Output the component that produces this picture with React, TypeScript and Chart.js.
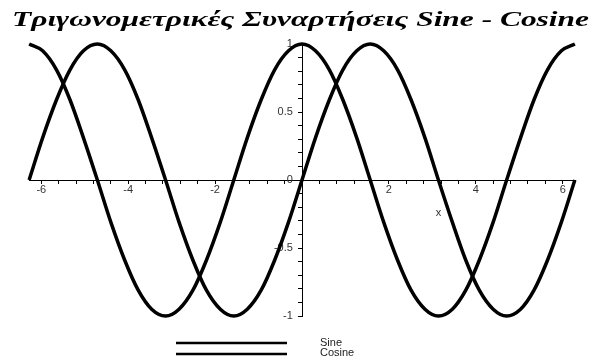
import React, { useEffect, useRef } from "react";
import { Chart, registerables } from "chart.js";

Chart.register(...registerables);

const TITLE = "Τριγωνομετρικές Συναρτήσεις Sine - Cosine";
const AXIS_LABEL = "x";
const SERIES_NAMES = ["Sine", "Cosine"];

const xValues = [
  -6.28, -5.97, -5.65, -5.34, -5.03, -4.71, -4.4, -4.08, -3.77, -3.46, -3.14,
  -2.83, -2.51, -2.2, -1.88, -1.57, -1.26, -0.94, -0.63, -0.31, 0,
  0.31, 0.63, 0.94, 1.26, 1.57, 1.88, 2.2, 2.51, 2.83, 3.14,
  3.46, 3.77, 4.08, 4.4, 4.71, 5.03, 5.34, 5.65, 5.97, 6.28,
];

const sineValues = [
  0, 0.31, 0.59, 0.81, 0.95, 1, 0.95, 0.81, 0.59, 0.31, 0,
  -0.31, -0.59, -0.81, -0.95, -1, -0.95, -0.81, -0.59, -0.31, 0,
  0.31, 0.59, 0.81, 0.95, 1, 0.95, 0.81, 0.59, 0.31, 0,
  -0.31, -0.59, -0.81, -0.95, -1, -0.95, -0.81, -0.59, -0.31, 0,
];

const cosineValues = [
  1, 0.95, 0.81, 0.59, 0.31, 0, -0.31, -0.59, -0.81, -0.95, -1,
  -0.95, -0.81, -0.59, -0.31, 0, 0.31, 0.59, 0.81, 0.95, 1,
  0.95, 0.81, 0.59, 0.31, 0, -0.31, -0.59, -0.81, -0.95, -1,
  -0.95, -0.81, -0.59, -0.31, 0, 0.31, 0.59, 0.81, 0.95, 1,
];

const xMajorTicks = [-6, -4, -2, 2, 4, 6];
const yMajorTicks = [-1, -0.5, 0, 0.5, 1];

const X_MIN = -6.2832;
const X_MAX = 6.2832;

const near = (v: number, list: number[]) => list.some((t) => Math.abs(t - v) < 1e-6);

const decorPlugin = {
  id: "decor",
  afterDraw(chart: any) {
    const ctx = chart.ctx;
    ctx.save();
    // Title, stretched across the width
    ctx.fillStyle = "#000";
    ctx.font = 'bold italic 20px "Liberation Serif"';
    ctx.textBaseline = "alphabetic";
    ctx.textAlign = "left";
    const w = ctx.measureText(TITLE).width;
    const target = 577;
    ctx.save();
    ctx.translate(12, 26);
    ctx.scale(target / w, 1);
    ctx.fillText(TITLE, 0, 0);
    ctx.restore();

    // axis label
    const xs = chart.scales.x;
    const ys = chart.scales.y;
    ctx.font = '11px "Liberation Sans"';
    ctx.fillStyle = "#333";
    ctx.textAlign = "center";
    ctx.textBaseline = "middle";
    ctx.fillText(AXIS_LABEL, xs.getPixelForValue(Math.PI), ys.getPixelForValue(0) + 33);

    // legend
    const ds = chart.data.datasets;
    ds.forEach((d: any, i: number) => {
      const ly = 343 + i * 11;
      ctx.strokeStyle = d.borderColor;
      ctx.lineWidth = 2.5;
      ctx.beginPath();
      ctx.moveTo(176, ly);
      ctx.lineTo(287, ly);
      ctx.stroke();
      ctx.fillStyle = "#222";
      ctx.font = '11px "Liberation Sans"';
      ctx.textAlign = "left";
      ctx.textBaseline = "middle";
      ctx.fillText(d.label, 320, 343 + i * 9.5);
    });
    ctx.restore();
  },
};

export default function App() {
  const ref = useRef<HTMLCanvasElement>(null);
  useEffect(() => {
    if (!ref.current) return;
    const mk = (vals: number[]) => xValues.map((x, i) => ({ x, y: vals[i] }));
    const chart = new Chart(ref.current, {
      type: "line",
      data: {
        datasets: [
          {
            label: SERIES_NAMES[0],
            data: mk(sineValues),
            borderColor: "#000",
            borderWidth: 3.5,
            pointRadius: 0,
            cubicInterpolationMode: "monotone",
            clip: false as any,
          },
          {
            label: SERIES_NAMES[1],
            data: mk(cosineValues),
            borderColor: "#000",
            borderWidth: 3.5,
            pointRadius: 0,
            cubicInterpolationMode: "monotone",
            clip: false as any,
          },
        ],
      },
      options: {
        animation: false,
        responsive: false,
        layout: { padding: { top: 44, left: 29, right: 20, bottom: 47 } },
        plugins: { legend: { display: false }, title: { display: false }, tooltip: { enabled: false } },
        scales: {
          x: {
            type: "linear",
            min: X_MIN,
            max: X_MAX,
            position: { y: 0 } as any,
            grid: { drawOnChartArea: false, tickLength: 3, color: "#000", tickWidth: 1 },
            border: { display: true, color: "#000", width: 1 },
            ticks: {
              stepSize: 0.4,
              includeBounds: false,
              autoSkip: false,
              maxRotation: 0,
              padding: 0,
              color: "#333",
              font: { family: "Liberation Sans", size: 11 },
              callback: (v: any) => (near(Number(v), xMajorTicks) ? String(Math.round(Number(v))) : ""),
            },
          },
          y: {
            type: "linear",
            min: -1,
            max: 1,
            position: { x: 0 } as any,
            grid: { drawOnChartArea: false, tickLength: 4, color: "#000", tickWidth: 1 },
            border: { display: true, color: "#000", width: 1 },
            ticks: {
              stepSize: 0.1,
              autoSkip: false,
              padding: 10,
              color: "#333",
              font: { family: "Liberation Sans", size: 11 },
              callback: (v: any) => {
                const n = Number(v);
                if (!near(n, yMajorTicks)) return "";
                const r = Math.round(n * 10) / 10;
                return String(r) + "   ";
              },
            },
          },
        },
      },
      plugins: [decorPlugin],
    });
    return () => chart.destroy();
  }, []);
  return (
    <div style={{ position: "fixed", left: 0, top: 0, width: 595, height: 363, background: "#fff" }}>
      <canvas ref={ref} width={595} height={363} />
    </div>
  );
}
